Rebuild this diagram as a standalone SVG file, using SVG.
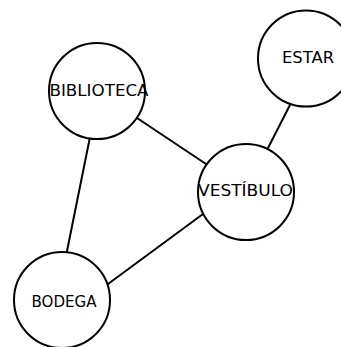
<svg xmlns="http://www.w3.org/2000/svg" width="341" height="347" viewBox="0 0 341 347">
<style>
.node circle{fill:#fff;stroke:#000;stroke-width:2}
.node text{font-family:"Comic Sans MS","DejaVu Sans",sans-serif;font-size:16px;fill:#000;text-anchor:middle;dominant-baseline:central}
.edges line{stroke:#000;stroke-width:2;stroke-linecap:round}
</style>
<rect width="341" height="347" fill="#fff"/>
<g id="connectors" class="edges">
<line x1="90" y1="137" x2="66" y2="256"/>
<line x1="137" y1="118" x2="209" y2="166"/>
<line x1="108" y1="284" x2="203" y2="214"/>
<line x1="268" y1="148" x2="292" y2="101"/>
</g>
<g id="BIBLIOTECA" class="node"><circle cx="97" cy="91" r="48"/><text x="99" y="90" textLength="99" lengthAdjust="spacingAndGlyphs">BIBLIOTECA</text></g>
<g id="ESTAR" class="node"><circle cx="306" cy="58.5" r="48"/><text x="308" y="57" textLength="52" lengthAdjust="spacingAndGlyphs">ESTAR</text></g>
<g id="VESTIBULO" class="node"><circle cx="246" cy="192" r="48"/><text x="245.5" y="190" textLength="95" lengthAdjust="spacingAndGlyphs">VESTÍBULO</text></g>
<g id="BODEGA" class="node"><circle cx="62" cy="300" r="48"/><text x="64" y="301" textLength="65" lengthAdjust="spacingAndGlyphs">BODEGA</text></g>
</svg>
